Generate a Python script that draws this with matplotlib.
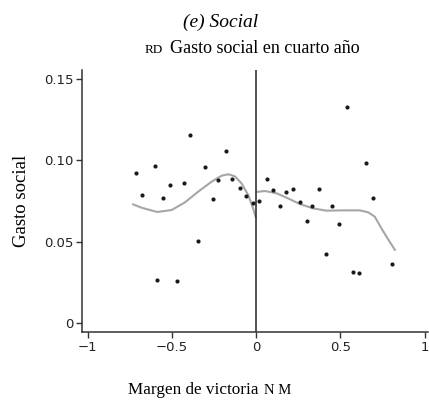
import matplotlib
matplotlib.use("Agg")
import matplotlib.pyplot as plt

# scatter points (margin of victory, social spending)
margin = [-0.716, -0.675, -0.603, -0.552, -0.512, -0.431, -0.392, -0.304, -0.259,
          -0.225, -0.180, -0.142, -0.099, -0.061, -0.021, 0.018, -0.346, -0.590,
          -0.471, 0.537, 0.649, 0.062, 0.101, 0.178, 0.219, 0.374, 0.141, 0.258,
          0.332, 0.449, 0.693, 0.301, 0.491, 0.417, 0.572, 0.611, 0.807]
gasto = [0.0923, 0.0785, 0.0964, 0.0771, 0.0847, 0.0863, 0.1158, 0.0959, 0.0763,
         0.0879, 0.1060, 0.0886, 0.0828, 0.0783, 0.0736, 0.0752, 0.0504, 0.0263,
         0.0258, 0.1327, 0.0982, 0.0887, 0.0820, 0.0804, 0.0824, 0.0826, 0.0720,
         0.0746, 0.0721, 0.0718, 0.0767, 0.0629, 0.0611, 0.0424, 0.0314, 0.0308,
         0.0363]

# smoothed fit, left and right of the cutoff
fit_left_x = [-0.736, -0.680, -0.588, -0.502, -0.423, -0.344, -0.265, -0.205,
              -0.166, -0.126, -0.087, -0.047, -0.018, -0.002]
fit_left_y = [0.0732, 0.0709, 0.0683, 0.0695, 0.0742, 0.0808, 0.0869, 0.0906,
              0.0915, 0.0902, 0.0859, 0.0787, 0.0705, 0.0648]
fit_right_x = [0.002, 0.052, 0.121, 0.180, 0.259, 0.338, 0.418, 0.516, 0.615,
               0.665, 0.704, 0.744, 0.783, 0.827]
fit_right_y = [0.0806, 0.0812, 0.0798, 0.0771, 0.0732, 0.0705, 0.0691, 0.0693,
               0.0693, 0.0681, 0.0654, 0.0582, 0.0515, 0.0445]

xticks = [-1, -0.5, 0, 0.5, 1]
xticklabels = ['\u22121', '\u22120.5', '0', '0.5', '1']
yticks = [0, 0.05, 0.10, 0.15]
yticklabels = ['0', '0.05', '0.10', '0.15']

W, H = 429, 400
fig = plt.figure(figsize=(W / 100, H / 100), dpi=100)
ax = fig.add_axes([82 / W, 68 / H, 346 / W, 262 / H])

ax.plot(fit_left_x, fit_left_y, color='#a6a6a6', lw=1.5, solid_capstyle='butt',
        solid_joinstyle='round')
ax.plot(fit_right_x, fit_right_y, color='#a6a6a6', lw=1.5, solid_capstyle='butt',
        solid_joinstyle='round')
ax.scatter(margin, gasto, s=9, color='#1a1a1a', zorder=3, linewidths=0)
ax.axvline(0, color='#222222', lw=1.1)

ax.set_xlim(-1.034, 1.02)
ax.set_ylim(-0.0055, 0.1556)
ax.set_xticks(xticks)
ax.set_xticklabels(xticklabels)
ax.set_yticks(yticks)
ax.set_yticklabels(yticklabels)

for s in ['top', 'right']:
    ax.spines[s].set_visible(False)
for s in ['left', 'bottom']:
    ax.spines[s].set_color('#333333')
    ax.spines[s].set_linewidth(1.1)
ax.tick_params(length=4.3, width=1.0, color='#333333', labelsize=9.5,
               labelcolor='#222222', pad=2)

serif = ['Liberation Serif', 'DejaVu Serif']
fig.text(0.513, 0.945, '(e) Social', ha='center', va='center',
         fontsize=14, style='italic', family=serif)

# subtitle: small-caps "RD" followed by the title text
r = fig.canvas.get_renderer()
fig.text(163 / W, 1 - 53 / H, 'RD', ha='right', va='baseline', fontsize=9.5,
         family=serif)
fig.text(170 / W, 1 - 53 / H, 'Gasto social en cuarto año', ha='left',
         va='baseline', fontsize=13, family=serif)

# x label with small-caps "NM"
xl = fig.text(128 / W, 6 / H, 'Margen de victoria', ha='left', va='baseline',
              fontsize=12.3, family=serif)
bb = xl.get_window_extent(renderer=r)
fig.text((bb.x1 + 6) / W, 6 / H, 'N M', ha='left', va='baseline', fontsize=10.5,
         family=serif)

fig.text(22 / W, 1 - 201 / H, 'Gasto social', ha='center', va='center',
         rotation=90, fontsize=13.5, family=serif)

fig.savefig('out.png', dpi=100)
